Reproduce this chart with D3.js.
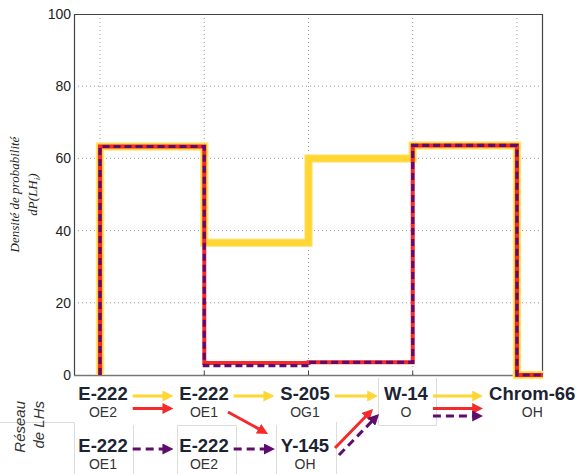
<!DOCTYPE html>
<html><head><meta charset="utf-8">
<script src="https://cdn.jsdelivr.net/npm/d3@7"></script>
<style>
html,body{margin:0;padding:0;background:#fff;}
svg{display:block;}
</style></head>
<body>
<svg id="c" width="577" height="474"></svg>
<script>
// ---- data ----
const binEdges = [0, 1, 2, 3, 4];
const yTicks = [0, 20, 40, 60, 80, 100];
const yellowVals = [63.3, 36.6, 60.0, 63.6];
const redVals    = [63.3, 3.3, 3.5, 63.6];
const purpleVals = [63.3, 2.6, 3.5, 63.6];
const seriesColors = ["#FFD634", "#F52A2A", "#5E0C6E"];
const nodeIds   = ["n0", "n1", "n2", "n3", "n4", "m0", "m1", "m2"];
const nodeNames = ["E-222", "E-222", "S-205", "W-14", "Chrom-66", "E-222", "E-222", "Y-145"];
const nodeSubs  = ["OE2", "OE1", "OG1", "O", "OH", "OE1", "OE2", "OH"];
const nodeCols  = [0, 1, 2, 3, 4.25, 0, 1, 2];
const nodeRows  = [0, 0, 0, 0, 0, 1, 1, 1];
const yellowPath = ["n0", "n1", "n2", "n3", "n4"];
const redPath    = ["n0", "n1", "m2", "n3", "n4"];
const purplePath = ["m0", "m1", "m2", "n3", "n4"];

// ---- layout ----
const svg = d3.select("#c");
const L = 74, T = 14, R = 543, B = 375;
const x = d3.scaleLinear().domain([-0.25, 4.25]).range([L, R]);
const y = d3.scaleLinear().domain([0, 100]).range([B, T]);

// grid
const grid = svg.append("g");
grid.selectAll("line.h").data(yTicks.filter(d => d > 0 && d < 100)).join("line")
  .attr("x1", L).attr("x2", R).attr("y1", d => y(d)).attr("y2", d => y(d))
  .attr("stroke", "#9a9a9a").attr("stroke-width", 1).attr("stroke-dasharray", "1,3");
grid.selectAll("line.v").data(binEdges).join("line")
  .attr("x1", d => x(d)).attr("x2", d => x(d)).attr("y1", T).attr("y2", B)
  .attr("stroke", "#9a9a9a").attr("stroke-width", 1).attr("stroke-dasharray", "1,3");

// faint box borders from the pasted diagram
const faint = svg.append("g").attr("stroke", "#dcdcdc").attr("stroke-width", 1).attr("fill", "none");
faint.append("path").attr("d", "M0,422.5H74.5V474");
faint.append("path").attr("d", "M133.5,425V474");
faint.append("path").attr("d", "M177.5,474V425.5H236.5V474");
faint.append("path").attr("d", "M276.5,425V474");
faint.append("path").attr("d", "M336.5,422V474");
faint.append("path").attr("d", "M378.5,378V425.5H436.5V378");

// spines
svg.append("line").attr("x1", L).attr("x2", R).attr("y1", B + 0.5).attr("y2", B + 0.5).attr("stroke", "#777").attr("stroke-width", 1.5);
svg.append("path").attr("d", `M${L + 0.5},${B}V${T + 0.5}H${R - 0.5}V${B}`).attr("fill", "none").attr("stroke", "#444").attr("stroke-width", 1.2);
// bottom inner ticks
svg.append("g").selectAll("line").data(binEdges).join("line")
  .attr("x1", d => x(d)).attr("x2", d => x(d)).attr("y1", B).attr("y2", B - 4)
  .attr("stroke", "#444").attr("stroke-width", 1);

// y tick labels
svg.append("g").selectAll("text").data(yTicks).join("text")
  .attr("x", 71).attr("y", d => y(d)).attr("dy", "0.36em")
  .attr("text-anchor", "end").attr("font-family", "Liberation Sans, Arial, sans-serif")
  .attr("font-size", 14).attr("fill", "#222").text(d => d);

// y label
const ylab = svg.append("g").attr("font-family", "Liberation Serif, serif").attr("font-style", "italic")
  .attr("font-size", 13).attr("fill", "#222");
ylab.append("text").attr("transform", `translate(19,${(T + B) / 2}) rotate(-90)`).attr("text-anchor", "middle").text("Densité de probabilité");
const t2 = ylab.append("text").attr("transform", `translate(37,${(T + B) / 2}) rotate(-90)`).attr("text-anchor", "middle");
t2.append("tspan").text("dP(LH");
t2.append("tspan").attr("font-size", 9).attr("dy", 3).text("i");
t2.append("tspan").attr("dy", -3).text(")");

// step lines
function pts(vals) {
  const p = [[binEdges[0], 0]];
  vals.forEach((v, i) => p.push([binEdges[i], v]));
  p.push([binEdges[binEdges.length - 1], 0]);
  p.push([4.25, 0]);
  return p;
}
const line = d3.line().x(d => x(d[0])).y(d => y(d[1])).curve(d3.curveStepAfter);
const lines = svg.append("g").attr("fill", "none").attr("stroke-linejoin", "miter");
lines.append("path").attr("d", line(pts(yellowVals))).attr("stroke", "#FFE98A").attr("stroke-width", 8.5);
lines.append("path").attr("d", line(pts(yellowVals))).attr("stroke", seriesColors[0]).attr("stroke-width", 6.5);
lines.append("path").attr("d", line(pts(redVals))).attr("stroke", seriesColors[1]).attr("stroke-width", 4);
lines.append("path").attr("d", line(pts(purpleVals))).attr("stroke", seriesColors[2]).attr("stroke-width", 3.2).attr("stroke-dasharray", "7,4");

// ---- network diagram ----
const colX = d3.scaleLinear().domain([0, 3]).range([103, 406]);
const rowY = d3.scaleLinear().domain([0, 1]).range([393, 445]);
const nodes = {};
nodeIds.forEach((id, i) => nodes[id] = {name: nodeNames[i], sub: nodeSubs[i], cx: colX(nodeCols[i]), cy: rowY(nodeRows[i]), row: nodeRows[i]});

const ng = svg.append("g");
nodeIds.forEach(id => {
  const n = nodes[id];
  const t = ng.append("text").attr("x", n.cx).attr("y", n.cy + 6.5).attr("text-anchor", "middle")
    .attr("font-family", "Liberation Sans, Arial, sans-serif").attr("font-weight", "bold")
    .attr("font-size", 18.5).attr("fill", "#1c2433").text(n.name);
  n.hw = t.node().getComputedTextLength() / 2;
  ng.append("text").attr("x", n.cx).attr("y", n.cy + 24).attr("text-anchor", "middle")
    .attr("font-family", "Liberation Sans, Arial, sans-serif")
    .attr("font-size", 14).attr("fill", "#333").text(n.sub);
});

// network label
const nl = svg.append("g").attr("font-family", "Liberation Sans, Arial, sans-serif").attr("font-style", "italic")
  .attr("font-size", 15).attr("fill", "#333");
nl.append("text").attr("transform", "translate(25,401) rotate(-90)").attr("text-anchor", "end").text("Réseau");
nl.append("text").attr("transform", "translate(44,401) rotate(-90)").attr("text-anchor", "end").text("de LHs");

// arrow markers
const defs = svg.append("defs");
seriesColors.forEach((c, i) => {
  defs.append("marker").attr("id", "ah" + i).attr("markerUnits", "userSpaceOnUse")
    .attr("viewBox", "0 0 10 10").attr("refX", 9).attr("refY", 5)
    .attr("markerWidth", 11).attr("markerHeight", 11).attr("orient", "auto")
    .append("path").attr("d", "M0,0L10,5L0,10Z").attr("fill", c);
});

const laneOff = [[3, 15.5, 23], [4, 4, 4]];
function arrowGeom(a, b, s) {
  const A = nodes[a], Bn = nodes[b];
  if (A.row === Bn.row) {
    const yy = A.cy + laneOff[A.row][s];
    return [A.cx + A.hw + 5, yy, Bn.cx - Bn.hw - 6, yy];
  }
  if (A.row < Bn.row) return [A.cx + 24, A.cy + 19, Bn.cx - 37, Bn.cy - 11];
  if (s === 1) return [A.cx + 30, A.cy + 3, Bn.cx - 33, Bn.cy + 16];
  return [A.cx + 34, A.cy + 10, Bn.cx - 27, Bn.cy + 21];
}
const ag = svg.append("g").attr("fill", "none");
[yellowPath, redPath, purplePath].forEach((path, s) => {
  for (let i = 0; i < path.length - 1; i++) {
    const a = path[i], b = path[i + 1];
    if (s === 1 && a === "n0") { } 
    const g = arrowGeom(a, b, s);
    // shorten for marker
    const dx = g[2] - g[0], dy = g[3] - g[1], len = Math.hypot(dx, dy);
    const ex = g[2] - dx / len * 6, ey = g[3] - dy / len * 6;
    ag.append("line").attr("x1", g[0]).attr("y1", g[1]).attr("x2", ex).attr("y2", ey)
      .attr("stroke", seriesColors[s]).attr("stroke-width", 3)
      .attr("stroke-dasharray", s === 2 ? "8,5" : null);
    ag.append("line").attr("x1", ex - dx / len * 0.1).attr("y1", ey - dy / len * 0.1).attr("x2", g[2] - dx / len * 1).attr("y2", g[3] - dy / len * 1)
      .attr("stroke", "none").attr("marker-end", `url(#ah${s})`);
  }
});
</script>
</body></html>
